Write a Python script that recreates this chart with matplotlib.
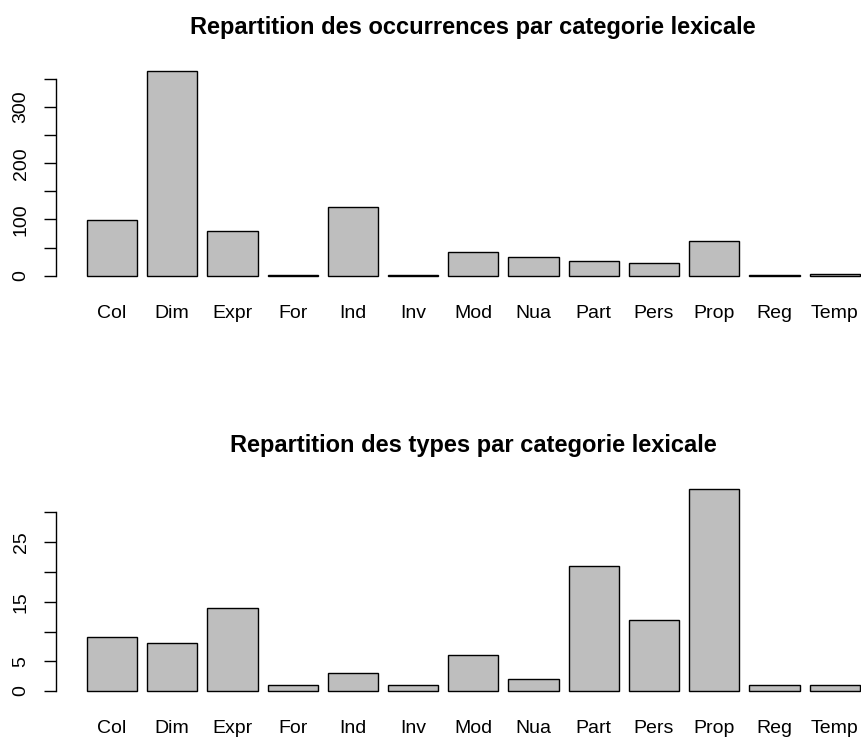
import matplotlib
matplotlib.use("Agg")
import matplotlib.pyplot as plt

plt.rcParams['font.family'] = ['Liberation Sans', 'DejaVu Sans']

# categories lexicales
categories = ["Col", "Dim", "Expr", "For", "Ind", "Inv", "Mod",
              "Nua", "Part", "Pers", "Prop", "Reg", "Temp"]

# nombre d'occurrences par categorie
occurrences = [99, 364, 79, 2, 123, 1, 42, 33, 26, 23, 61, 1, 3]

# nombre de types par categorie
types = [9, 8, 14, 1, 3, 1, 6, 2, 21, 12, 34, 1, 1]

W, H = 862, 737
fig = plt.figure(figsize=(W / 100, H / 100), dpi=100)


def px_axes(left, right, top, bottom):
    # position d'un axe donnee en pixels
    return fig.add_axes([left / W, 1 - bottom / H, (right - left) / W, (bottom - top) / H])


def barplot(ax, values, title, yticks, ylabels, title_y):
    # positions facon R barplot : largeur 1, espace 0.2
    n = len(values)
    lefts = [0.2 + 1.2 * i for i in range(n)]
    centers = [l + 0.5 for l in lefts]
    ax.bar(lefts, values, width=1.0, align='edge', color='#BEBEBE',
           edgecolor='black', linewidth=1.0)
    span = lefts[-1] + 1.0 - lefts[0]
    ax.set_xlim(lefts[0] - 0.04 * span, lefts[-1] + 1.0 + 0.04 * span)
    top = max(values)
    ax.set_ylim(-0.04 * top, top * 1.04)

    for s in ['top', 'right', 'bottom']:
        ax.spines[s].set_visible(False)
    ax.spines['left'].set_bounds(yticks[0], yticks[-1])
    ax.spines['left'].set_linewidth(1.0)

    ax.set_yticks(yticks)
    ax.set_yticklabels(ylabels, rotation=90, va='center', fontsize=14)
    ax.tick_params(axis='y', length=9, width=1.0, pad=10)

    ax.set_xticks(centers)
    ax.set_xticklabels(categories, fontsize=14)
    ax.tick_params(axis='x', length=0, pad=15)

    ax.set_facecolor('none')
    fig.text(473 / W, 1 - title_y / H, title, ha='center', va='baseline',
             fontsize=17, fontweight='bold')


ax1 = px_axes(56, 890.7, 62.9, 283.9)
barplot(ax1, occurrences, "Repartition des occurrences par categorie lexicale",
        [0, 50, 100, 150, 200, 250, 300, 350],
        ["0", "", "100", "", "200", "", "300", ""], 34)

ax2 = px_axes(56, 890.7, 480.6, 699.1)
barplot(ax2, types, "Repartition des types par categorie lexicale",
        [0, 5, 10, 15, 20, 25, 30],
        ["0", "5", "", "15", "", "25", ""], 452)

fig.savefig("out.png", dpi=100)
